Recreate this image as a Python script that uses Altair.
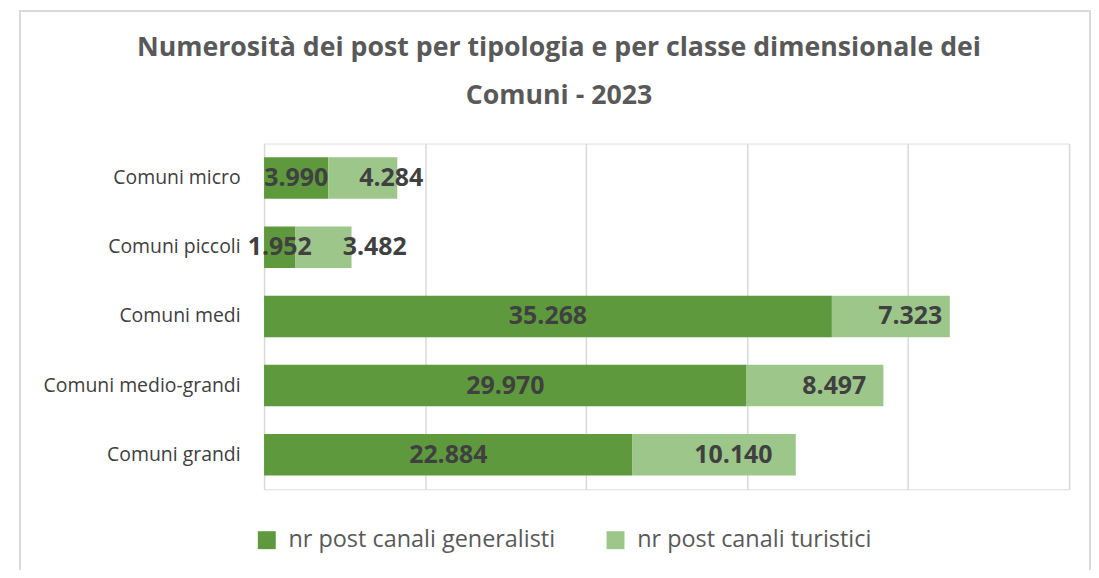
import altair as alt
import pandas as pd

categories = ["Comuni micro", "Comuni piccoli", "Comuni medi", "Comuni medio-grandi", "Comuni grandi"]
generalisti = [3990, 1952, 35268, 29970, 22884]
turistici = [4284, 3482, 7323, 8497, 10140]
series = ["nr post canali generalisti", "nr post canali turistici"]

rows = []
for c, g, t in zip(categories, generalisti, turistici):
    rows.append({"cat": c, "serie": series[0], "value": g, "ord": 0})
    rows.append({"cat": c, "serie": series[1], "value": t, "ord": 1})
df = pd.DataFrame(rows)

FONT = "Open Sans"
base = alt.Chart(df).transform_stack(
    stack="value", groupby=["cat"], as_=["x0", "x1"], sort=[alt.SortField("ord", order="ascending")]
).transform_calculate(
    mid="datum.ord == 0 ? (datum.x0 + datum.x1) / 2 : max((datum.x0 + datum.x1) / 2 + 1200, datum.x0 / 2 + 5900)",
    label="replace(format(datum.value, ','), ',', '.')",
)

y = alt.Y("cat:N", sort=categories, title=None,
          scale=alt.Scale(paddingInner=0.4, paddingOuter=0.2),
          axis=alt.Axis(labelFont=FONT, labelFontSize=19.5, labelColor="#404040",
                        labelPadding=24, ticks=False, domain=False, grid=False,
                        labelLimit=300))

bars = base.mark_bar().encode(
    x=alt.X("x0:Q", title=None, scale=alt.Scale(domain=[0, 50000]),
            axis=alt.Axis(values=[0, 10000, 20000, 30000, 40000, 50000], labels=False,
                          ticks=False, domain=False, grid=True, gridColor="#d9d9d9",
                          gridWidth=1.5)),
    x2="x1:Q",
    y=y,
    color=alt.Color("serie:N", scale=alt.Scale(domain=series, range=["#5e9a3d", "#9dc68a"]),
                    legend=alt.Legend(title=None, orient="none", direction="horizontal",
                                      legendX=-9, legendY=386, symbolType="square",
                                      symbolSize=324, symbolStrokeWidth=0,
                                      labelFont=FONT, labelFontSize=23.5, labelColor="#595959",
                                      columnPadding=48, labelOffset=10, labelLimit=400)),
)

texts = base.mark_text(font=FONT, fontSize=25, fontWeight="bold", color="#404040").encode(
    x=alt.X("mid:Q"),
    y=alt.Y("cat:N", sort=categories),
    text="label:N",
)

frame = alt.Chart(pd.DataFrame({"f": [0]})).mark_rect(
    fill="transparent", stroke="#d9d9d9", strokeWidth=2
).encode(
    x=alt.value(-245), x2=alt.value(829), y=alt.value(-133), y2=alt.value(460)
)

chart = alt.layer(frame, bars, texts).properties(
    width=808, height=347,
    title=alt.TitleParams(
        ["Numerosità dei post per tipologia e per classe dimensionale dei", "Comuni - 2023"],
        font=FONT, fontSize=26.8, fontWeight="bold", color="#595959",
        anchor="middle", dx=-108, offset=-100, lineHeight=48,
    ),
    autosize=alt.AutoSizeParams(type="none"),
    padding={"left": 257, "top": 135, "right": 22, "bottom": 80},
).configure_view(strokeWidth=0).configure(background="white")

chart.save("out.html", embed_options={"renderer": "svg", "actions": False})
